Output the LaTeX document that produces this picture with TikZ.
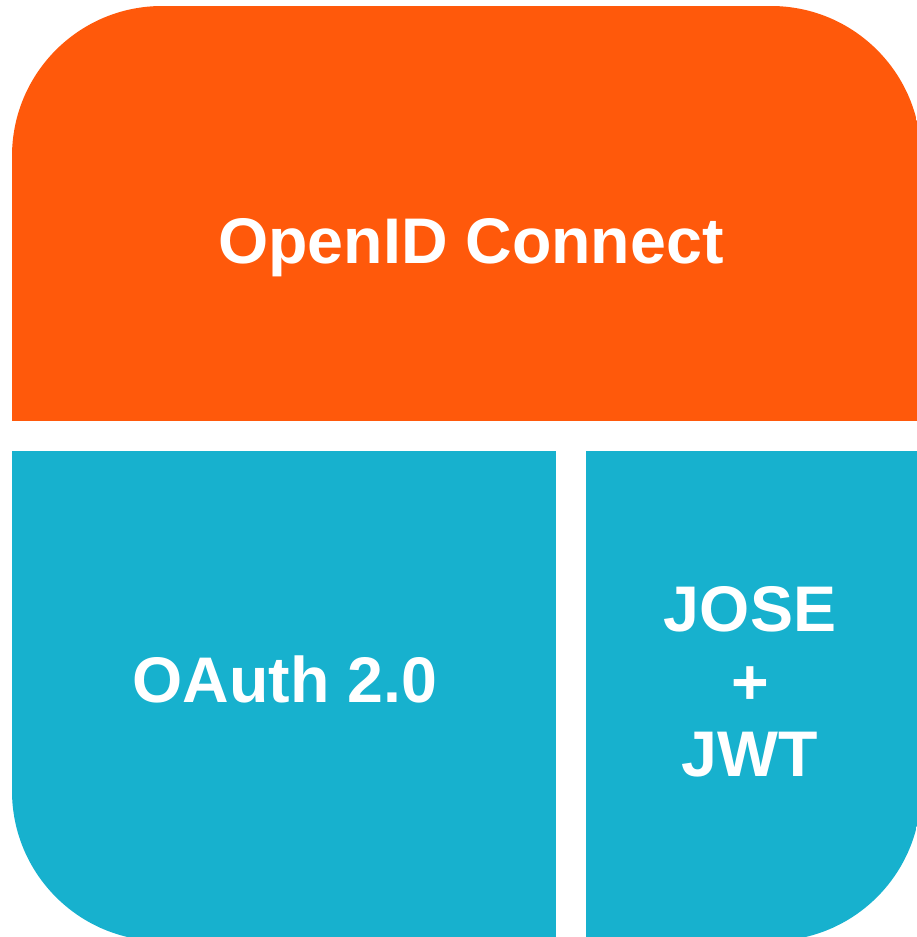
\documentclass[tikz,border=0pt]{standalone}
\usepackage{fontspec}
\setmainfont{Liberation Sans}
\definecolor{oidorange}{HTML}{FF590B}
\definecolor{oidblue}{HTML}{17B1CE}
\begin{document}
\begin{tikzpicture}[x=1pt,y=-1pt,
  lbl/.style={text=white,font=\fontsize{64.5}{72.5}\selectfont\bfseries,align=center,inner sep=0pt}]
\useasboundingbox (0,0) rectangle (917,937);
\begin{scope}
\clip[rounded corners=150pt] (12,6) rectangle (921,941);
\fill[oidorange] (0,0) rectangle (930,421);
\fill[oidblue] (0,451) rectangle (556,950);
\fill[oidblue] (586,451) rectangle (930,950);
\end{scope}
\node[lbl,anchor=base] (oidc) at (471,263) {OpenID Connect};
\node[lbl,anchor=base] (oauth) at (285,702) {OAuth 2.0};
\node[lbl] (jose) at (750,682) {JOSE\\+\\JWT};
\end{tikzpicture}
\end{document}
